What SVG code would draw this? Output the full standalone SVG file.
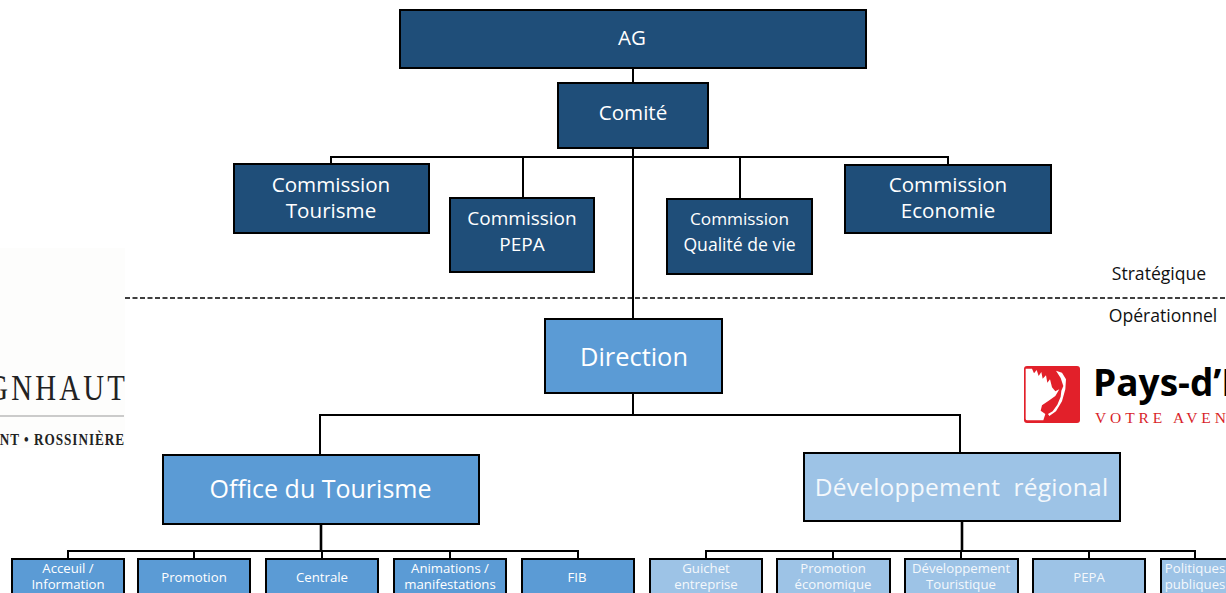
<svg xmlns="http://www.w3.org/2000/svg" width="1226" height="593" viewBox="0 0 1226 593">
<defs>
<style>
text{font-family:"Open Sans","Noto Sans","Liberation Sans",sans-serif;text-anchor:middle}
.box{stroke:#000;stroke-width:2}
.dark{fill:#1f4e79}.mid{fill:#5b9bd5}.light{fill:#9dc3e6}
.w{fill:#fff}.l{fill:#f4f8fc}
.con{fill:none;stroke:#000;stroke-width:2}
.thick{stroke-width:2.6}
.sm{font-size:13.2px}
.lab{font-size:17.6px;fill:#111}
.serif{font-family:"Liberation Serif",serif;text-anchor:end;fill:#222}
</style>
<clipPath id="cl"><rect x="0" y="340" width="126" height="120"/></clipPath>
</defs>
<rect width="1226" height="593" fill="#fff"/>
<g id="connectors">
<path class="con" d="M633 68V83M633 148V319M331 164V157H948V165M523 157V198M740 157V199"/>
<path class="con" d="M633 393V415M320 455V415H960V453"/>
<path class="con" d="M68 559V551H578V559M194 551V559M322 551V559M450 551V559"/>
<path class="con" d="M706 559V551H1195V559M833 551V559M961 551V559M1089 551V559"/>
<path class="con thick" d="M321 524V551M962 521V551"/>
<path d="M125 298H1226" fill="none" stroke="#000" stroke-width="1.5" stroke-dasharray="5 2.5"/>
</g>
<g id="n-ag"><rect class="box dark" x="400" y="10" width="466" height="58"/><text class="w" x="632" y="45" font-size="20.5">AG</text></g>
<g id="n-comite"><rect class="box dark" x="558" y="83" width="150" height="65"/><text class="w" x="633" y="120" font-size="20.6">Comité</text></g>
<g id="n-tourisme"><rect class="box dark" x="234" y="164" width="195" height="69"/><text class="w" x="331" y="192" font-size="20.6">Commission</text><text class="w" x="331" y="218" font-size="20.6">Tourisme</text></g>
<g id="n-pepa"><rect class="box dark" x="450" y="198" width="144" height="74"/><text class="w" x="522" y="225" font-size="19">Commission</text><text class="w" x="522" y="251" font-size="19">PEPA</text></g>
<g id="n-qualite"><rect class="box dark" x="667" y="199" width="145" height="75"/><text class="w" x="739.5" y="225" font-size="17.2">Commission</text><text class="w" x="739.5" y="251" font-size="17.6">Qualité de vie</text></g>
<g id="n-economie"><rect class="box dark" x="845" y="165" width="206" height="68"/><text class="w" x="948" y="192" font-size="20.6">Commission</text><text class="w" x="948" y="218" font-size="20.6">Economie</text></g>
<g id="n-direction"><rect class="box mid" x="545" y="319" width="177" height="74"/><text class="w" x="634" y="366" font-size="25.4">Direction</text></g>
<g id="n-office"><rect class="box mid" x="163" y="455" width="316" height="69"/><text class="w" x="320.5" y="498" font-size="25">Office du Tourisme</text></g>
<g id="n-dev"><rect class="box light" x="804" y="453" width="316" height="68"/><text class="l" x="961.5" y="496" font-size="24.5" letter-spacing="0.25" style="white-space:pre">Développement  régional</text></g>
<g id="n-accueil"><rect class="box mid" x="12" y="559" width="112" height="40"/><text class="w sm" x="68" y="573">Acceuil /</text><text class="w sm" x="68" y="589">Information</text></g>
<g id="n-promotion"><rect class="box mid" x="138" y="559" width="112" height="40"/><text class="w sm" x="194" y="582">Promotion</text></g>
<g id="n-centrale"><rect class="box mid" x="266" y="559" width="112" height="40"/><text class="w sm" x="322" y="582">Centrale</text></g>
<g id="n-animations"><rect class="box mid" x="394" y="559" width="112" height="40"/><text class="w sm" x="450" y="573">Animations /</text><text class="w sm" x="450" y="589">manifestations</text></g>
<g id="n-fib"><rect class="box mid" x="522" y="559" width="112" height="40"/><text class="w sm" x="577" y="582">FIB</text></g>
<g id="n-guichet"><rect class="box light" x="650" y="559" width="112" height="40"/><text class="l sm" x="706" y="573">Guichet</text><text class="l sm" x="706" y="589">entreprise</text></g>
<g id="n-promoeco"><rect class="box light" x="777" y="559" width="113" height="40"/><text class="l sm" x="833" y="573">Promotion</text><text class="l sm" x="833" y="589">économique</text></g>
<g id="n-devtour"><rect class="box light" x="905" y="559" width="113" height="40"/><text class="l sm" x="961" y="573">Développement</text><text class="l sm" x="961" y="589">Touristique</text></g>
<g id="n-pepa2"><rect class="box light" x="1033" y="559" width="112" height="40"/><text class="l sm" x="1089" y="582">PEPA</text></g>
<g id="n-politiques"><rect class="box light" x="1161" y="559" width="80" height="40"/><text class="l sm" x="1195" y="573">Politiques</text><text class="l sm" x="1195" y="589">publiques</text></g>
<g id="labels">
<text class="lab" x="1159" y="280">Stratégique</text>
<text class="lab" x="1163" y="322">Opérationnel</text>
</g>
<g id="logo-left">
<rect x="0" y="248" width="125" height="200" fill="#fdfdfc"/>
<g clip-path="url(#cl)">
<text class="serif" transform="translate(128,400) scale(.8,1)" font-size="36" letter-spacing="4">GNHAUT</text>
<text class="serif" transform="translate(125,445) scale(.88,1.05)" font-size="15" font-weight="700" letter-spacing="1.1">NT • ROSSINIÈRE</text>
</g>
<path d="M0 416H124" stroke="#999" stroke-width="1"/>
</g>
<g id="logo-right">
<rect x="1024" y="366" width="56" height="57" rx="3" fill="#e2202a"/>
<g transform="translate(1020,362) scale(.3333)" fill="#fff">
<path d="M17 20L36 20 42 34 50 24 56 42 64 30 68 50 78 40 82 62 90 52 96 76 106 88 118 82 106 102 86 116 66 130 62 146 76 156 70 175 22 175Q17 175 17 170Z"/>
<path d="M108 26L126 32 138 52 136 82 126 118 108 148 88 162 84 156 98 148 112 128 122 104 124 86 130 72 122 48Z"/>
</g>
<text x="1093" y="396" font-size="37" font-weight="700" fill="#000" style="text-anchor:start">Pays-d’E</text>
<text x="1095" y="422.5" font-size="15.5" fill="#d81e2a" letter-spacing="3.9" style="font-family:'Liberation Serif',serif;text-anchor:start">VOTRE AVEN</text>
</g>
</svg>
